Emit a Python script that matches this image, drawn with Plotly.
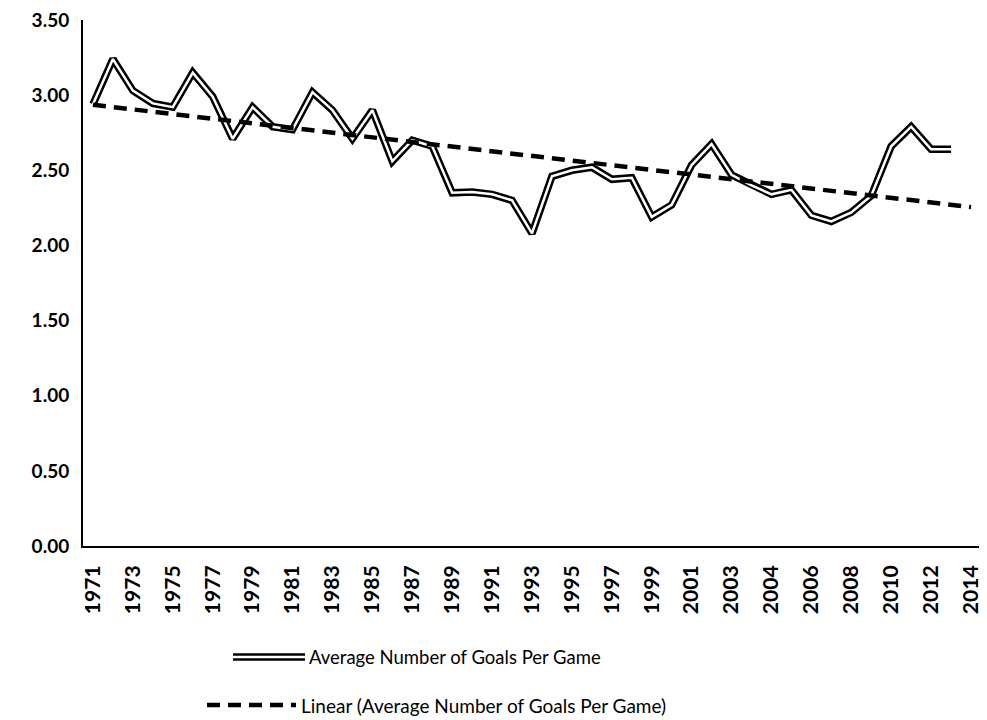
import numpy as np
import plotly.graph_objects as go

years = ["1971", "1972", "1973", "1974", "1975", "1976", "1977", "1978", "1979", "1980",
         "1981", "1982", "1983", "1984", "1985", "1986", "1987", "1988", "1989", "1990",
         "1991", "1992", "1993", "1994", "1995", "1996", "1997", "1998", "1999", "2000",
         "2001", "2002", "2003", "2003", "2004", "2005", "2006", "2007", "2008", "2009",
         "2010", "2011", "2012", "2013", "2014"]

goals = [2.94, 3.24, 3.03, 2.945, 2.92, 3.15, 2.99, 2.71, 2.92, 2.79,
         2.77, 3.02, 2.90, 2.71, 2.90, 2.56, 2.70, 2.66, 2.35, 2.355,
         2.34, 2.30, 2.08, 2.46, 2.50, 2.52, 2.44, 2.45, 2.19, 2.27,
         2.535, 2.675, 2.47, 2.40, 2.34, 2.37, 2.20, 2.16, 2.22, 2.33,
         2.66, 2.79, 2.64, 2.64]

y_ticks = [0, 0.5, 1.0, 1.5, 2.0, 2.5, 3.0, 3.5]

series_name = "Average Number of Goals Per Game"
trend_name = "Linear (Average Number of Goals Per Game)"

idx = np.arange(len(years))
data_idx = np.arange(len(goals))
slope, intercept = np.polyfit(data_idx + 1, np.array(goals), 1)
trend = intercept + slope * (idx + 1)

fig = go.Figure()
fig.add_trace(go.Scatter(x=data_idx, y=goals, mode="lines", name=series_name,
                         line=dict(color="black", width=7.5), showlegend=False,
                         hoverinfo="skip"))
fig.add_trace(go.Scatter(x=data_idx, y=goals, mode="lines", name=series_name,
                         line=dict(color="white", width=2.5), showlegend=False))
fig.add_trace(go.Scatter(x=idx, y=trend, mode="lines", name=trend_name,
                         line=dict(color="black", width=4.5, dash="13px,8px"),
                         showlegend=False))

OFF = 8  # page body margin
W, H = 987 - OFF, 720 - OFF
L, T = 83 - OFF, 20 - OFF
R = W - (981 - OFF)
B = H - (546 - OFF)
pw = W - L - R
ph = H - T - B


def px(x):
    return (x - OFF - L) / pw


def py(y):
    return (H - B - (y - OFF)) / ph


# manual legend (centered, Excel style)
y1 = 657
fig.add_shape(type="line", xref="paper", yref="paper", x0=px(233), x1=px(305),
              y0=py(y1), y1=py(y1), line=dict(color="black", width=7.5))
fig.add_shape(type="line", xref="paper", yref="paper", x0=px(233), x1=px(305),
              y0=py(y1), y1=py(y1), line=dict(color="white", width=2.5))
fig.add_annotation(xref="paper", yref="paper", x=px(307), y=py(y1), xanchor="left",
                   yanchor="middle", text=series_name, showarrow=False,
                   font=dict(family="Lato", size=18.5, color="black"))
y2 = 705
fig.add_shape(type="line", xref="paper", yref="paper", x0=px(207), x1=px(296),
              y0=py(y2), y1=py(y2), line=dict(color="black", width=4.5, dash="13px,8px"))
fig.add_annotation(xref="paper", yref="paper", x=px(299), y=py(y2), xanchor="left",
                   yanchor="middle", text=trend_name, showarrow=False,
                   font=dict(family="Lato", size=19, color="black"))

fig.update_layout(
    width=W, height=H,
    margin=dict(l=L, r=R, t=T, b=B, autoexpand=False),
    paper_bgcolor="white", plot_bgcolor="white",
    showlegend=False,
    xaxis=dict(
        range=[-0.5, len(years) - 0.5],
        tickmode="array",
        tickvals=list(idx[::2]),
        ticktext=years[::2],
        tickangle=-90,
        automargin=False,
        showgrid=False, zeroline=False,
        showline=True, linecolor="black", linewidth=2,
        ticks="", ticklabelstandoff=9,
        tickfont=dict(family="Lato", size=21, color="black", weight="bold"),
    ),
    yaxis=dict(
        range=[0, 3.5],
        tickmode="array",
        tickvals=y_ticks,
        tickformat=".2f",
        automargin=False,
        showgrid=False, zeroline=False,
        showline=True, linecolor="black", linewidth=2,
        ticks="", ticklabelstandoff=8, ticklabeloverflow="allow",
        tickfont=dict(family="Lato", size=19, color="black", weight="bold"),
    ),
)

fig.write_html("out.html")
